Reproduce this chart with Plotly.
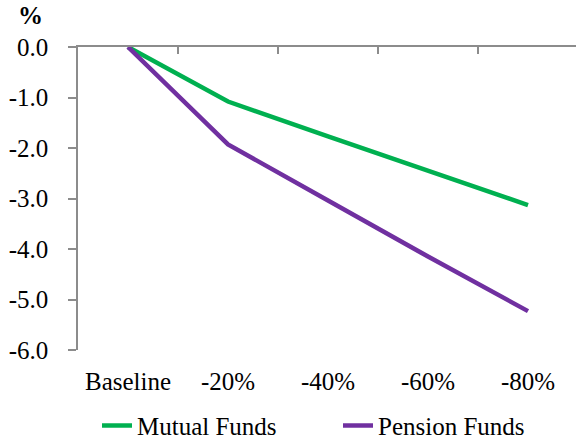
import plotly.graph_objects as go

categories = ["Baseline", "-20%", "-40%", "-60%", "-80%"]
mutual_funds = [0.0, -1.08, -1.77, -2.46, -3.13]
pension_funds = [0.0, -1.93, -3.04, -4.15, -5.23]
y_tick_vals = [0, -1, -2, -3, -4, -5, -6]
y_tick_text = ["0.0", "-1.0", "-2.0", "-3.0", "-4.0", "-5.0", "-6.0"]

FONT = "Liberation Serif"
FS = 25
AXIS_COLOR = "#8c8c8c"

fig = go.Figure()
fig.add_trace(go.Scatter(x=categories, y=mutual_funds, mode="lines", name="Mutual Funds",
                         line=dict(color="#00B050", width=4.5)))
fig.add_trace(go.Scatter(x=categories, y=pension_funds, mode="lines", name="Pension Funds",
                         line=dict(color="#7030A0", width=4.5)))
# helper trace for the top (zero-line) category axis with boundary ticks
fig.add_trace(go.Scatter(x=categories, y=[None] * len(categories), xaxis="x2", mode="lines",
                         showlegend=False, hoverinfo="skip"))

fig.update_layout(
    template="none",
    width=576, height=444,
    margin=dict(l=78, r=0, t=47, b=94, autoexpand=False),
    paper_bgcolor="white", plot_bgcolor="white",
    font=dict(family=FONT, size=FS, color="black"),
    title=dict(text="<b>%</b>", x=18 / 576, xanchor="left", xref="container",
               y=1 - 15 / 444, yanchor="middle", yref="container",
               font=dict(family=FONT, size=FS, color="black")),
    xaxis=dict(type="category", categoryarray=categories, range=[-0.5, 4.48],
               showline=False, ticks="", showgrid=False, zeroline=False, automargin=False,
               ticklabelstandoff=14, tickfont=dict(family=FONT, size=FS, color="black")),
    xaxis2=dict(type="category", categoryarray=categories, overlaying="x", side="top",
                matches="x", anchor="y", showline=True, linecolor=AXIS_COLOR, linewidth=1.5,
                ticks="inside", tickson="boundaries", ticklen=7, tickcolor=AXIS_COLOR, tickwidth=1.5,
                showticklabels=False, showgrid=False, zeroline=False, automargin=False),
    yaxis=dict(range=[-6, 0], tickvals=y_tick_vals, ticktext=y_tick_text,
               showline=True, linecolor=AXIS_COLOR, linewidth=1.5,
               ticks="outside", ticklen=8, tickcolor=AXIS_COLOR, tickwidth=1.5,
               showgrid=False, zeroline=False, ticklabelstandoff=15, automargin=False,
               tickfont=dict(family=FONT, size=FS, color="black")),
    legend=dict(orientation="h", x=19 / 498, xanchor="left", y=-0.25, yanchor="middle",
                font=dict(family=FONT, size=25, color="black"), tracegroupgap=0,
                entrywidth=196, entrywidthmode="pixels",
                bgcolor="rgba(0,0,0,0)"),
    showlegend=True,
)

fig.write_html("out.html", config={"displayModeBar": False},
               post_script="document.body.style.margin='0';")
